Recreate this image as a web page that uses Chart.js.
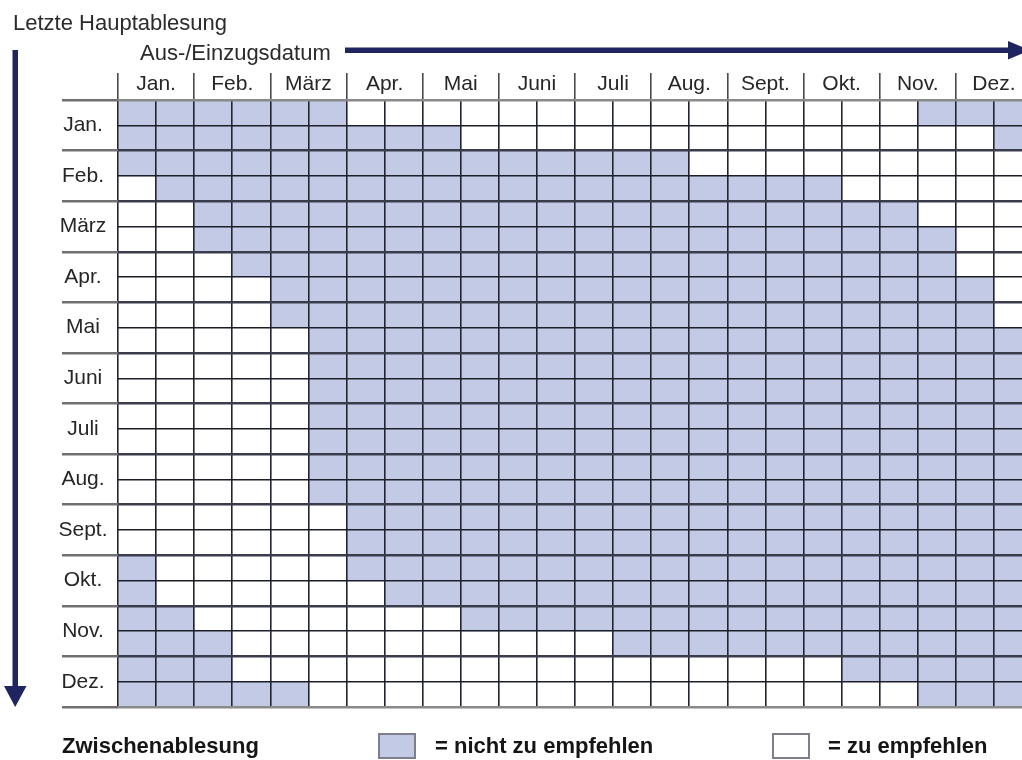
<!DOCTYPE html>
<html lang="de">
<head>
<meta charset="utf-8">
<title>Zwischenablesung</title>
<script src="https://cdn.jsdelivr.net/npm/chart.js@4.4.1/dist/chart.umd.min.js"></script>
<style>
  html, body { margin: 0; padding: 0; background: #fff; overflow: hidden; }
  #blatt { position: relative; width: 1022px; height: 760px; overflow: hidden; font-family: "Liberation Sans", Arial, sans-serif; }
  #rasterChart { position: absolute; left: 0; top: 0; }
  .txt { position: absolute; font-size: 22px; line-height: 22px; color: #2b2b2b; white-space: nowrap; }
  .fett { font-weight: bold; color: #151515; }
  .kasten { position: absolute; top: 733px; width: 38px; height: 26px; box-sizing: border-box; border: 2px solid #7d7f8c; }
</style>
</head>
<body>
<div id="blatt">
  <canvas id="rasterChart" width="1040" height="760"></canvas>
  <div class="txt" style="left:13px;top:12px">Letzte Hauptablesung</div>
  <div class="txt" style="left:140px;top:42px">Aus-/Einzugsdatum</div>
  <div class="txt fett" style="left:62px;top:735px">Zwischenablesung</div>
  <div class="kasten" id="kastenBlau" style="left:378px"></div>
  <div class="txt fett" style="left:435px;top:735px">= nicht zu empfehlen</div>
  <div class="kasten" id="kastenWeiss" style="left:772px"></div>
  <div class="txt fett" style="left:828px;top:735px">= zu empfehlen</div>
</div>
<script>
// Monatsnamen fuer beide Achsen
var monate = ["Jan.", "Feb.", "März", "Apr.", "Mai", "Juni", "Juli", "Aug.", "Sept.", "Okt.", "Nov.", "Dez."];

// Zeilen = letzte Hauptablesung (Halbmonate, Jan. 1. Haelfte bis Dez. 2. Haelfte)
// Spalten = Aus-/Einzugsdatum (Halbmonate); 1 = nicht zu empfehlen, 0 = zu empfehlen
var raster = [
    "111111000000000000000111",
    "111111111000000000000001",
    "111111111111111000000000",
    "011111111111111111100000",
    "001111111111111111111000",
    "001111111111111111111100",
    "000111111111111111111100",
    "000011111111111111111110",
    "000011111111111111111110",
    "000001111111111111111111",
    "000001111111111111111111",
    "000001111111111111111111",
    "000001111111111111111111",
    "000001111111111111111111",
    "000001111111111111111111",
    "000001111111111111111111",
    "000000111111111111111111",
    "000000111111111111111111",
    "100000111111111111111111",
    "100000011111111111111111",
    "110000000111111111111111",
    "111000000000011111111111",
    "111000000000000000011111",
    "111110000000000000000111"
];

var farbeBlau = "rgb(195, 202, 230)";
var farbeWeiss = "#ffffff";
document.getElementById("kastenBlau").style.background = farbeBlau;
document.getElementById("kastenWeiss").style.background = farbeWeiss;

// jede Zelle als schwebender Balken [Spalte, Spalte + 1] in Zeile r
var nichtEmpfohlen = [], empfohlen = [];
raster.forEach(function (zeile, r) {
    zeile.split("").forEach(function (wert, c) {
        var zelle = { x: [c, c + 1], y: r + 0.5 };
        (wert === "1" ? nichtEmpfohlen : empfohlen).push(zelle);
    });
});

var tickFont = { family: "'Liberation Sans', Arial, sans-serif", size: 21 };
var mess = document.createElement("canvas").getContext("2d");
mess.font = tickFont.size + "px " + tickFont.family;
var breitest = Math.max.apply(null, monate.map(function (m) { return mess.measureText(m).width; }));

function monatsLabel(v) {
    return v % 2 === 1 ? monate[(v - 1) / 2] : "";
}
function gerade(c) {
    return c.tick && c.tick.value % 2 === 0;
}

// Pfeile fuer die beiden Achsenbeschriftungen
var pfeilPlugin = {
    id: "pfeile",
    afterDraw: function (chart) {
        var ctx = chart.ctx, area = chart.chartArea;
        ctx.save();
        ctx.fillStyle = "#1f2560";
        ctx.fillRect(345, 47.5, 668, 5.5);
        ctx.beginPath();
        ctx.moveTo(1008, 41);
        ctx.lineTo(1030, 50.2);
        ctx.lineTo(1008, 59.5);
        ctx.closePath();
        ctx.fill();
        ctx.fillRect(12.5, 50, 5.5, area.bottom - 70);
        ctx.beginPath();
        ctx.moveTo(4, area.bottom - 21);
        ctx.lineTo(26.5, area.bottom - 21);
        ctx.lineTo(15.2, area.bottom);
        ctx.closePath();
        ctx.fill();
        ctx.restore();
    }
};

var ctxR = document.getElementById("rasterChart").getContext("2d");
var myRasterChart = new Chart(ctxR, {
    type: "bar",
    data: {
        datasets: [
            {
                label: "= nicht zu empfehlen",
                data: nichtEmpfohlen,
                backgroundColor: farbeBlau,
                borderWidth: 0,
                grouped: false,
                barPercentage: 1,
                categoryPercentage: 1
            },
            {
                label: "= zu empfehlen",
                data: empfohlen,
                backgroundColor: farbeWeiss,
                borderWidth: 0,
                grouped: false,
                barPercentage: 1,
                categoryPercentage: 1
            }
        ]
    },
    options: {
        responsive: false,
        animation: false,
        indexAxis: "y",
        layout: { padding: { left: 0, top: 0, right: 8, bottom: 53 } },
        plugins: {
            legend: { display: false },
            tooltip: { enabled: false }
        },
        scales: {
            x: {
                type: "linear",
                position: "top",
                min: 0,
                max: 24,
                border: { display: false },
                grid: {
                    z: 1,
                    color: "#22242f",
                    lineWidth: 1.6,
                    tickLength: 27,
                    tickWidth: 1.6,
                    tickColor: function (c) { return gerade(c) ? "#4a4a4a" : "rgba(0,0,0,0)"; }
                },
                ticks: {
                    stepSize: 1,
                    autoSkip: false,
                    maxRotation: 0,
                    padding: -24,
                    color: "#262626",
                    font: tickFont,
                    callback: monatsLabel
                },
                afterFit: function (s) { s.height = 100; }
            },
            y: {
                type: "linear",
                position: "left",
                reverse: true,
                offset: false,
                min: 0,
                max: 24,
                border: { display: false },
                grid: {
                    z: 1,
                    offset: false,
                    color: function (c) {
                        if (!c.tick) return "#22242f";
                        if (c.tick.value === 0 || c.tick.value === 24) return "#8a8a8a";
                        return c.tick.value % 2 === 0 ? "#3a3c4c" : "#1c1e2a";
                    },
                    lineWidth: function (c) { return gerade(c) ? 2.4 : 1.4; },
                    tickLength: 56,
                    tickWidth: 2.4,
                    tickColor: function (c) { return gerade(c) ? "#707070" : "rgba(0,0,0,0)"; }
                },
                ticks: {
                    stepSize: 1,
                    autoSkip: false,
                    crossAlign: "center",
                    padding: -21 - breitest / 2,
                    color: "#262626",
                    font: tickFont,
                    callback: monatsLabel
                },
                afterFit: function (s) { s.width = 118; }
            }
        }
    },
    plugins: [pfeilPlugin]
});
</script>
</body>
</html>
